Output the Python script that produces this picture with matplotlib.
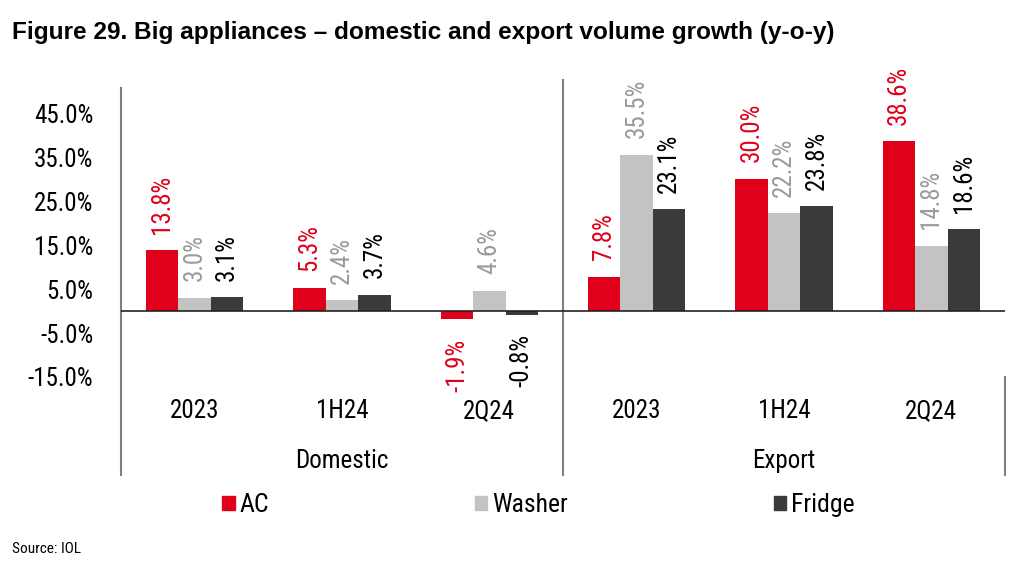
import numpy as np
import matplotlib
matplotlib.use("Agg")
import matplotlib.pyplot as plt
from matplotlib.patches import Patch

plt.rcParams.update({"font.family": ["Roboto Condensed", "Liberation Sans", "DejaVu Sans"]})
RED, LGREY, DGREY, LINE = "#E0001B", "#C3C3C3", "#3A3A3A", "#808080"

categories = ["2023", "1H24", "2Q24", "2023", "1H24", "2Q24"]
groups = ["Domestic", "Export"]
ac = [13.8, 5.3, -1.9, 7.8, 30.0, 38.6]
washer = [3.0, 2.4, 4.6, 35.5, 22.2, 14.8]
fridge = [3.1, 3.7, -0.8, 23.1, 23.8, 18.6]
yticks = [45, 35, 25, 15, 5, -5, -15]

fig = plt.figure(figsize=(10.24, 5.66), dpi=100)
ax = fig.add_axes([121 / 1024, 1 - 377 / 566, 884 / 1024, 289 / 566])

x = np.arange(len(categories)); w = 0.22
series = [("AC", ac, RED, RED), ("Washer", washer, LGREY, "#9A9A9A"), ("Fridge", fridge, DGREY, "black")]
for i, (name, vals, col, tcol) in enumerate(series):
    xs = x + (i - 1) * w
    ax.bar(xs, vals, w, color=col, label=name, zorder=2)
    for xi, v in zip(xs, vals):
        ax.annotate(f"{v:.1f}%", (xi, v), xytext=(0, 12 if v >= 0 else -14), textcoords="offset points",
                    rotation=90, ha="center", va="bottom" if v >= 0 else "top",
                    fontsize=18, color=tcol, annotation_clip=False)

ax.set_xlim(-0.5, len(categories) - 0.5); ax.set_ylim(-15, 50.7)
ax.axhline(0, color="#222222", linewidth=1.2, zorder=3)
ax.set_yticks(yticks); ax.set_yticklabels([f"{t:.1f}%" for t in yticks], fontsize=18)
ax.tick_params(axis="y", length=0, pad=20); ax.set_xticks([])
for s in ax.spines.values(): s.set_visible(False)

# category / group labels and separators (multi-level axis)
for xi, c in zip(x, categories):
    ax.text(xi, -0.118, c, transform=ax.get_xaxis_transform(), ha="center", va="center", fontsize=18)
for gi, g in enumerate(groups):
    ax.text(1 + 3 * gi, -0.29, g, transform=ax.get_xaxis_transform(), ha="center", va="center", fontsize=18)
ax.plot([0, 0], [1.0, -0.339], transform=ax.transAxes, color=LINE, lw=1.5, clip_on=False)
ax.plot([0.5, 0.5], [1.028, -0.339], transform=ax.transAxes, color=LINE, lw=1.5, clip_on=False)
ax.plot([1, 1], [0.0, -0.339], transform=ax.transAxes, color=LINE, lw=1.5, clip_on=False)

handles = [Patch(color=c, label=n) for n, _, c, _ in series]
fig.legend(handles=handles, loc="center", bbox_to_anchor=(0.526, 1 - 505 / 566), ncol=3, frameon=False,
           fontsize=18.5, handlelength=0.48, handleheight=0.48, handletextpad=0.2, columnspacing=8.0)

fig.text(12 / 1024, 1 - 32 / 566, "Figure 29. Big appliances \u2013 domestic and export volume growth (y-o-y)",
         fontsize=17.6, fontweight="bold", family=["Liberation Sans", "DejaVu Sans"], va="center")
fig.text(12 / 1024, 1 - 549 / 566, "Source: IOL", fontsize=11, va="center")
fig.savefig("out.png", dpi=100)
